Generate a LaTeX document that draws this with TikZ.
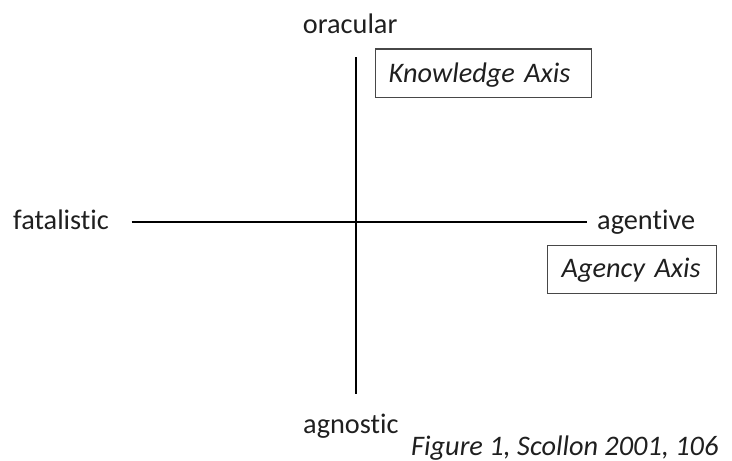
\documentclass[tikz,border=0pt]{standalone}
\usepackage{fontspec}
\setmainfont[Ligatures=NoCommon]{Carlito}
\begin{document}
\begin{tikzpicture}[x=1pt,y=-1pt,
  lbl/.style={anchor=base west, inner sep=0pt, text=black!88, font=\fontsize{28.3}{34}\selectfont},
  axisbox/.style={draw=black!72, line width=1.3pt, anchor=north west, align=left, inner ysep=0pt, text depth=0pt, text=black!88, font=\fontsize{28.3}{34}\selectfont\itshape},
  axisline/.style={line width=2pt, draw=black}]
\useasboundingbox (0,0) rectangle (732,461);
\coordinate (top) at (356,57);
\coordinate (bot) at (356,394);
\coordinate (lft) at (131.7,221.7);
\coordinate (rgt) at (586.7,221.7);
\draw[axisline] (top) -- (bot);
\draw[axisline] (lft) -- (rgt);
\node[lbl] (oracular) at (302.7,33) {oracular};
\node[lbl] (fatal) at (13,229) {fatalistic};
\node[lbl] (agentive) at (597,229) {agentive};
\node[lbl] (agnostic) at (303,433) {agnostic};
\node[lbl, font=\fontsize{28.3}{34}\selectfont\itshape] (caption) at (411,455) {Figure 1, Scollon 2001, 106};
\node[axisbox, inner xsep=13pt, text width=190pt, minimum height=48.7pt, text height=18.7pt] (know) at (375,48.3) {Knowledge Axis};
\node[axisbox, inner xsep=14pt, text width=141pt, minimum height=48pt, text height=16pt] (agency) at (547,245) {Agency Axis};
\end{tikzpicture}
\end{document}
